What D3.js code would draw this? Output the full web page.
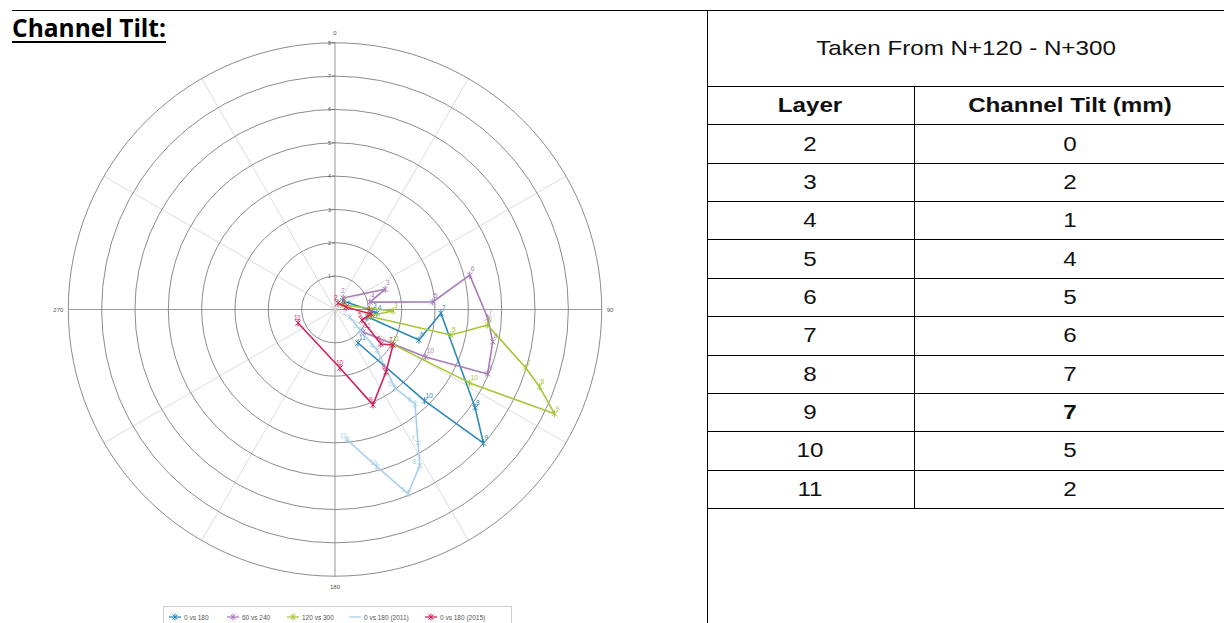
<!DOCTYPE html>
<html><head><meta charset="utf-8">
<script src="https://cdn.jsdelivr.net/npm/d3@7"></script>
<style>
html,body{margin:0;padding:0;background:#fff;}
svg{display:block;}
</style></head>
<body>
<svg id="chart" width="1224" height="623"></svg>
<script>
// ---- data ----
const layers = [2,3,4,5,6,7,8,9,10,11];
const seriesNames = ["0 vs 180","60 vs 240","120 vs 300","0 vs 180  (2011)","0 vs 180  (2015)"];
const seriesColors = ["#2c88b8","#a77cb9","#a6c63a","#a9d0ea","#d2235a"];
// angle in degrees (clockwise from 0 at top), magnitude in mm, per layer 2..11
const blueAngle   = [43, 92, 95, 103, 110, 92, 125, 132, 135.5, 145.5];
const blueValue   = [0.35, 1.11, 1.26, 1.01, 2.68, 3.18, 5.13, 5.99, 3.84, 1.22];
const purpleAngle = [35, 68, 78, 85.6, 75.7, 93.2, 101.6, 112.9, 117.6, 128.8];
const purpleValue = [0.42, 1.62, 1.07, 2.94, 4.17, 4.59, 4.83, 4.97, 3.07, 1.08];
const greenAngle  = [60.6, 91.5, 101, 102.4, 95.8, 107, 110.7, 115.4, 118.6, 121.2];
const greenValue  = [0.27, 1.74, 1.01, 3.56, 4.6, 5.98, 6.56, 7.29, 4.6, 1.99];
const lightAngle  = [116.6, 129.4, 134, 142.6, 139.7, 148.1, 151.5, 158.4, 165.1, 174.7];
const lightValue  = [0.5, 0.97, 1.75, 2.96, 3.71, 4.71, 5.33, 5.94, 4.88, 3.92];
const redAngle    = [24.8, 77.2, 97.1, 111.3, 126.9, 121.5, 140.8, 158.3, 175.1, 250];
const redValue    = [0.21, 0.34, 1.09, 0.87, 1.72, 2.04, 2.42, 3.08, 1.76, 1.18];
const ringTicks = [1,2,3,4,5,6,7,8];
const compassLabels = ["0","90","180","270"];
const spokeAngles = [0,30,60,90,120,150,180,210,240,270,300,330];
const tableTitle = "Taken From N+120 - N+300";
const tableHeader = ["Layer","Channel Tilt (mm)"];
const tableTilt = [0,2,1,4,5,6,7,7,5,2];

const angles = [blueAngle, purpleAngle, greenAngle, lightAngle, redAngle];
const values = [blueValue, purpleValue, greenValue, lightValue, redValue];
const series = seriesNames.map((n,i)=>({name:n,color:seriesColors[i],
  pts: layers.map((l,j)=>({layer:l, angle:angles[i][j], value:values[i][j]}))}));

const svg = d3.select("#chart");

// ---- page frame / title ----
svg.append("line").attr("x1",12).attr("x2",1224).attr("y1",10.5).attr("y2",10.5).attr("stroke","#000").attr("stroke-width",1);
svg.append("line").attr("x1",707.5).attr("x2",707.5).attr("y1",10).attr("y2",623).attr("stroke","#000");
svg.append("text").attr("x",12).attr("y",37)
  .attr("font-family","Open Sans, Liberation Sans, sans-serif").attr("font-weight","bold")
  .attr("font-size",25).attr("textLength",154).attr("lengthAdjust","spacingAndGlyphs")
  .attr("fill","#000").text("Channel Tilt:");
svg.append("line").attr("x1",12).attr("x2",166).attr("y1",42).attr("y2",42).attr("stroke","#000").attr("stroke-width",2);

// ---- polar chart ----
const cx = 335, cy = 309.5, R = 266.7;
const r = d3.scaleLinear().domain([0,8]).range([0,R]);
const a = d3.scaleLinear().domain([0,360]).range([0,2*Math.PI]);
const g = svg.append("g").attr("transform",`translate(${cx},${cy})`);

// spokes
g.selectAll(".spoke").data(spokeAngles).enter().append("line")
  .attr("x1",0).attr("y1",0)
  .attr("x2",d=>r(8)*Math.sin(a(d))).attr("y2",d=>-r(8)*Math.cos(a(d)))
  .attr("stroke",d=>d%90===0?"#9a9a9a":"#dcdcdc").attr("stroke-width",1);
// rings
g.selectAll(".ring").data(ringTicks).enter().append("circle")
  .attr("r",d=>r(d)).attr("fill","none").attr("stroke","#8c8c8c").attr("stroke-width",1);
// ring labels & ticks
g.selectAll(".rtick").data(ringTicks).enter().append("line")
  .attr("x1",-3).attr("x2",0).attr("y1",d=>-r(d)).attr("y2",d=>-r(d)).attr("stroke","#777");
g.selectAll(".rlab").data(ringTicks).enter().append("text")
  .attr("x",-4).attr("y",d=>-r(d)+2).attr("text-anchor","end")
  .attr("font-family","Liberation Sans, sans-serif").attr("font-size",5.5).attr("fill","#555")
  .text(d=>d);
// compass labels
const compassPos = [{t:compassLabels[0],x:0,y:-r(8)-8,anc:"middle"},
  {t:compassLabels[1],x:r(8)+5,y:2,anc:"start"},
  {t:compassLabels[2],x:0,y:r(8)+13,anc:"middle"},
  {t:compassLabels[3],x:-r(8)-5,y:2,anc:"end"}];
g.selectAll(".clab").data(compassPos).enter().append("text")
  .attr("x",d=>d.x).attr("y",d=>d.y).attr("text-anchor",d=>d.anc)
  .attr("font-family","Liberation Sans, sans-serif").attr("font-size",6).attr("fill","#555").text(d=>d.t);

// series lines
const line = d3.lineRadial().angle(d=>a(d.angle)).radius(d=>r(d.value));
const px = d=>r(d.value)*Math.sin(a(d.angle));
const py = d=>-r(d.value)*Math.cos(a(d.angle));
const star = s=>`M${-s},${-s}L${s},${s}M${-s},${s}L${s},${-s}M0,${-s-1}L0,${s+1}`;
const labOff = [[1,-3],[1,-4],[1,-3],[-7,-2],[-4,-3]];
const off = (i,d)=> (i===0 && d.layer===2) ? [4,5] : (i===1 && d.layer===2) ? [-2,-5] : labOff[i];
series.forEach((s,i)=>{
  const sg = g.append("g");
  sg.append("path").datum(s.pts).attr("d",line).attr("fill","none")
    .attr("stroke",s.color).attr("stroke-width",1.6).attr("stroke-linejoin","round");
  sg.selectAll(".m").data(s.pts).enter().append("path")
    .attr("transform",d=>`translate(${px(d)},${py(d)})`)
    .attr("d",star(2.6)).attr("stroke",s.color).attr("stroke-width",1).attr("fill","none");
  sg.selectAll(".l").data(s.pts).enter().append("text")
    .attr("x",d=>px(d)+off(i,d)[0]).attr("y",d=>py(d)+off(i,d)[1])
    .attr("font-family","Liberation Sans, sans-serif").attr("font-size",6.5).attr("fill",s.color)
    .text(d=>d.layer);
});

// legend
const lg = svg.append("g").attr("transform","translate(163,606)");
lg.append("rect").attr("x",0.5).attr("y",0.5).attr("width",348).attr("height",24)
  .attr("fill","#fff").attr("stroke","#cfcfcf");
const legX = [6,64,124,186,262];
series.forEach((s,i)=>{
  const e = lg.append("g").attr("transform",`translate(${legX[i]},11)`);
  e.append("line").attr("x1",0).attr("x2",12).attr("y1",0).attr("y2",0).attr("stroke",s.color).attr("stroke-width",1.3);
  if(i!==3) e.append("path").attr("transform","translate(6,0)").attr("d",star(2.5)).attr("stroke",s.color).attr("fill","none");
  e.append("text").attr("x",15).attr("y",2.5).attr("font-family","Liberation Sans, sans-serif")
    .attr("font-size",6.5).attr("fill","#555").text(s.name);
});

// ---- table ----
const tx0 = 707.5, tx1 = 1224, tmid = 914.5;
const rowY = d3.scaleLinear().domain([0,11]).range([86,508]);
const tf = "Liberation Sans, Arial, sans-serif";
const stretch = 1.18;
function ttext(x,y,str,bold){
  svg.append("text").attr("transform",`translate(${x},${y}) scale(${stretch},1)`)
    .attr("text-anchor","middle").attr("font-family",tf).attr("font-size",20.5)
    .attr("font-weight",bold?"bold":"normal").attr("fill","#111").text(str);
}
ttext(966,55,tableTitle,false);
const rowsIdx = d3.range(0,12);
svg.selectAll(".hl").data(rowsIdx).enter().append("line")
  .attr("x1",tx0).attr("x2",tx1).attr("y1",d=>Math.round(rowY(d))+0.5).attr("y2",d=>Math.round(rowY(d))+0.5)
  .attr("stroke","#000");
svg.append("line").attr("x1",tmid).attr("x2",tmid).attr("y1",86).attr("y2",508).attr("stroke","#000");
tableHeader.forEach((h,i)=>ttext(i===0?810:1070, rowY(0.5)+7, h, true));
layers.forEach((l,i)=>ttext(810, rowY(i+1.5)+7, l, false));
tableTilt.forEach((v,i)=>ttext(1070, rowY(i+1.5)+7, v, i===7));
</script>
</body></html>
